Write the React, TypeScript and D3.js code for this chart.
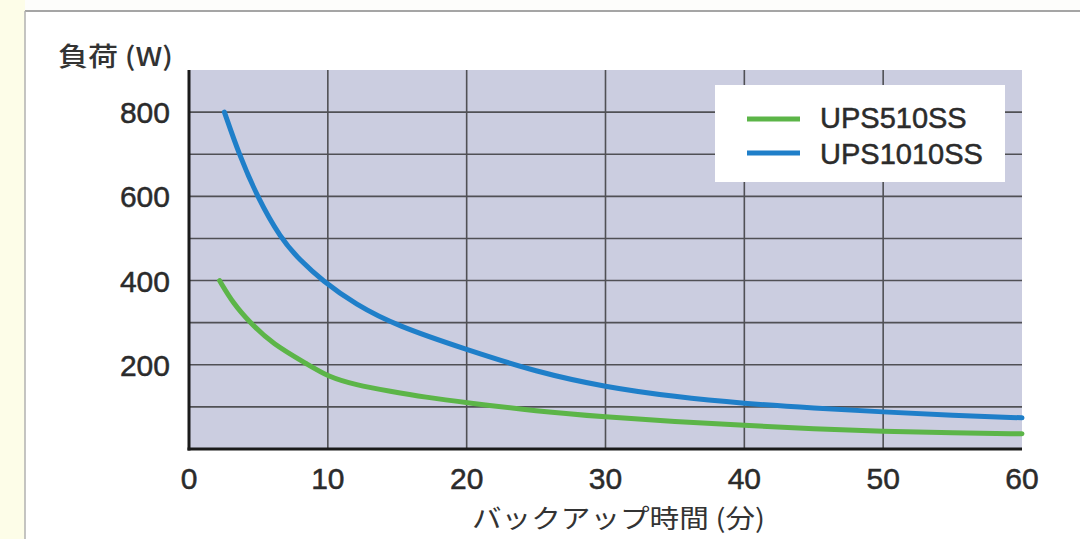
import React from "react";
import * as d3 from "d3";

const xTicks = [0, 10, 20, 30, 40, 50, 60];
const yTicks = [200, 400, 600, 800];
const yGrid = [100, 200, 300, 400, 500, 600, 700, 800];

const ups1010X = [2.55, 3.6, 4.9, 6.6, 8, 9.6, 12, 15, 20, 25, 30, 35, 40, 45, 50, 55, 60];
const ups1010Y = [800, 700, 600, 500, 448, 400, 343, 292, 236, 183, 147, 124, 108, 97, 88, 80, 74];

const ups510X = [2.2, 3.2, 4.4, 6, 8.6, 10, 12, 14.5, 17, 20, 25, 30, 35, 40, 45, 50, 55, 60];
const ups510Y = [400, 345, 300, 250, 200, 172, 152, 137, 123, 110, 90, 76, 65, 56, 48, 42, 38, 36];

const seriesNames = ["UPS510SS", "UPS1010SS"];
const seriesColors = ["#5cb548", "#1f7fc9"];

const W = 1080;
const H = 539;
const left = 189;
const right = 1022;
const top = 70;
const bottom = 449;

export default function App() {
  const x = d3.scaleLinear().domain([0, 60]).range([left, right]);
  const y = d3.scaleLinear().domain([0, 900]).range([bottom, top]);
  const line = d3
    .line<[number, number]>()
    .x((d) => x(d[0]))
    .y((d) => y(d[1]))
    .curve(d3.curveBasis);
  const series = [
    ups510X.map((v, i) => [v, ups510Y[i]] as [number, number]),
    ups1010X.map((v, i) => [v, ups1010Y[i]] as [number, number]),
  ];
  const numFont = "'Liberation Sans', Arial, Helvetica, sans-serif";
  const cjkFont = "'Noto Sans CJK JP', 'Liberation Sans', sans-serif";
  const txt = "#2b2b2b";
  return (
    <svg
      width={W}
      height={H}
      style={{ position: "absolute", left: 0, top: 0, display: "block" }}
    >
      <rect x={0} y={0} width={W} height={H} fill="#fdfdfb" />
      <rect x={0} y={0} width={25} height={H} fill="#fdfde8" />
      <rect x={25} y={11} width={W - 25} height={H - 11} fill="#ffffff" />
      <line x1={25} y1={11} x2={W} y2={11} stroke="#a5a5a5" strokeWidth={2} />
      <line x1={25} y1={11} x2={25} y2={H} stroke="#b0b0b0" strokeWidth={1.5} />

      <rect x={left} y={top} width={right - left} height={bottom - top} fill="#cbcde0" />

      {yGrid.map((v) => (
        <line key={"h" + v} x1={left} x2={right} y1={y(v)} y2={y(v)} stroke="#505055" strokeWidth={1.6} />
      ))}
      {xTicks.slice(1, -1).map((v) => (
        <line key={"v" + v} x1={x(v)} x2={x(v)} y1={top} y2={bottom} stroke="#505055" strokeWidth={1.6} />
      ))}

      <rect x={715} y={85} width={290} height={97} fill="#ffffff" />
      {seriesNames.map((n, i) => (
        <g key={n}>
          <line x1={747} x2={800} y1={119 + i * 34} y2={119 + i * 34} stroke={seriesColors[i]} strokeWidth={5} />
          <text x={820} y={128 + i * 36} fontFamily={numFont} fontSize={29} fill={txt} stroke={txt} strokeWidth={0.5}>
            {n}
          </text>
        </g>
      ))}

      {series.map((s, i) => (
        <path key={i} d={line(s) || ""} fill="none" stroke={seriesColors[i]} strokeWidth={5} strokeLinecap="round" />
      ))}

      <line x1={left} x2={left} y1={top} y2={bottom + 1.5} stroke="#1a1a1a" strokeWidth={3} />
      <line x1={left - 1.5} x2={right} y1={bottom} y2={bottom} stroke="#1a1a1a" strokeWidth={3} />

      {yTicks.map((v) => (
        <text key={"yl" + v} x={170} y={y(v) + 11} textAnchor="end" fontFamily={numFont} fontSize={30} fill={txt} stroke={txt} strokeWidth={0.5}>
          {v}
        </text>
      ))}
      {xTicks.map((v) => (
        <text key={"xl" + v} x={x(v)} y={489} textAnchor="middle" fontFamily={numFont} fontSize={30} fill={txt} stroke={txt} strokeWidth={0.5}>
          {v}
        </text>
      ))}

      <text x={58} y={66} fontFamily={cjkFont} fontSize={26} fontWeight={500} fill="#333" textLength={115} lengthAdjust="spacingAndGlyphs">
        負荷 (W)
      </text>
      <text x={472} y={528} fontFamily={cjkFont} fontSize={26} fill="#333" textLength={293} lengthAdjust="spacingAndGlyphs">
        バックアップ時間 (分)
      </text>
    </svg>
  );
}
